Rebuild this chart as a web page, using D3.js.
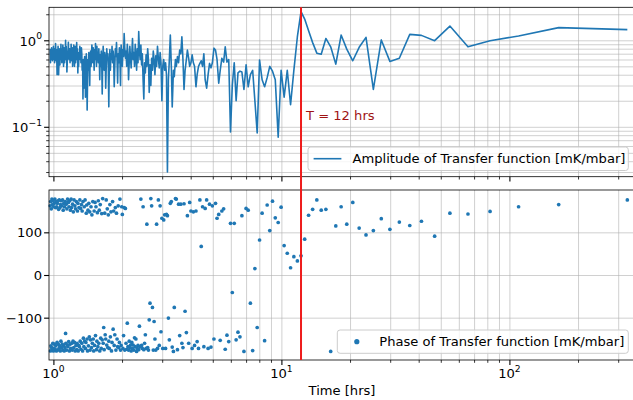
<!DOCTYPE html>
<html>
<head>
<meta charset="utf-8">
<script src="https://cdn.jsdelivr.net/npm/d3@7"></script>
<style>
  body { margin: 0; background: #fff; }
  svg { display: block; font-family: "DejaVu Sans", sans-serif; }
</style>
</head>
<body>
<svg id="chart" width="633" height="400"></svg>
<script>
// periods [hrs] of the spectral components
var periods = [
  329, 164.5, 109.7, 82.25, 65.8, 54.83, 47.0, 41.13, 36.56, 32.9,
  29.91, 27.42, 25.31, 23.5, 21.93, 20.56, 19.35, 18.28, 17.32, 16.45,
  15.67, 14.95, 14.30, 13.71, 13.16, 12.65, 12.19, 11.75, 11.34, 10.97,
  10.61, 10.28, 9.97, 9.68, 9.40, 9.14, 8.89, 8.66, 8.44, 8.23,
  8.02, 7.83, 7.65, 7.48, 7.31, 7.15, 7.00, 6.85, 6.71, 6.58,
  6.45, 6.33, 6.21, 6.09, 5.98, 5.875, 5.77, 5.67, 5.58, 5.48,
  5.39, 5.31, 5.22, 5.14, 5.06, 4.98, 4.91, 4.84, 4.77, 4.70,
  4.63, 4.57, 4.51, 4.45, 4.39, 4.33, 4.27, 4.22, 4.16, 4.11,
  4.06, 4.01, 3.96, 3.92, 3.87, 3.83, 3.78, 3.74, 3.70, 3.66,
  3.62, 3.58, 3.54, 3.50, 3.46, 3.43, 3.39, 3.36, 3.32, 3.29,
  3.257, 3.225, 3.194, 3.163, 3.133, 3.104, 3.075, 3.046, 3.018, 2.991,
  2.964, 2.938, 2.912, 2.886, 2.861, 2.836, 2.812, 2.788, 2.765, 2.742,
  2.719, 2.697, 2.675, 2.653, 2.632, 2.611, 2.591, 2.570, 2.550, 2.531,
  2.511, 2.492, 2.474, 2.455, 2.437, 2.419, 2.401, 2.384, 2.367, 2.350,
  2.333, 2.317, 2.301, 2.285, 2.269, 2.253, 2.238, 2.223, 2.208, 2.193,
  2.179, 2.164, 2.150, 2.136, 2.123, 2.109, 2.096, 2.082, 2.069, 2.056,
  2.043, 2.031, 2.018, 2.006, 1.994, 1.982, 1.970, 1.958, 1.947, 1.935,
  1.924, 1.913, 1.902, 1.891, 1.880, 1.869, 1.859, 1.848, 1.838, 1.828,
  1.818, 1.808, 1.798, 1.788, 1.778, 1.769, 1.759, 1.750, 1.741, 1.732,
  1.723, 1.714, 1.705, 1.696, 1.687, 1.679, 1.670, 1.662, 1.653, 1.645,
  1.637, 1.629, 1.621, 1.613, 1.605, 1.597, 1.589, 1.582, 1.574, 1.567,
  1.559, 1.552, 1.545, 1.537, 1.530, 1.523, 1.516, 1.509, 1.502, 1.495,
  1.489, 1.482, 1.475, 1.469, 1.462, 1.456, 1.449, 1.443, 1.437, 1.430,
  1.424, 1.418, 1.412, 1.406, 1.400, 1.394, 1.388, 1.382, 1.377, 1.371,
  1.365, 1.360, 1.354, 1.348, 1.343, 1.337, 1.332, 1.327, 1.321, 1.316,
  1.311, 1.306, 1.300, 1.295, 1.290, 1.285, 1.280, 1.275, 1.270, 1.265,
  1.261, 1.256, 1.251, 1.246, 1.242, 1.237, 1.232, 1.228, 1.223, 1.219,
  1.214, 1.210, 1.205, 1.201, 1.196, 1.192, 1.188, 1.183, 1.179, 1.175,
  1.171, 1.167, 1.163, 1.158, 1.154, 1.150, 1.146, 1.142, 1.138, 1.134,
  1.131, 1.127, 1.123, 1.119, 1.115, 1.111, 1.108, 1.104, 1.100, 1.097,
  1.093, 1.089, 1.086, 1.082, 1.079, 1.075, 1.072, 1.068, 1.065, 1.061,
  1.058, 1.054, 1.051, 1.048, 1.044, 1.041, 1.038, 1.034, 1.031, 1.028,
  1.025, 1.022, 1.019, 1.015, 1.012, 1.009, 1.006, 1.003, 1.000, 0.997,
  0.994, 0.991, 0.988, 0.985, 0.982, 0.979, 0.976, 0.973, 0.971, 0.968
];

// amplitude of transfer function [mK/mbar]
var amplitude = [
  1.33, 1.40, 1.12, 0.99, 0.84, 1.46, 0.99, 1.14, 1.17, 0.62,
  0.57, 1.01, 0.27, 1.08, 0.83, 0.58, 0.79, 1.15, 0.53, 0.84,
  1.05, 0.69, 0.71, 0.94, 1.29, 1.76, 2.14, 1.10, 0.45, 0.18,
  0.45, 0.22, 0.45, 0.076, 0.35, 0.44, 0.50, 0.37, 0.29, 0.35,
  0.59, 0.085, 0.20, 0.45, 0.40, 0.29, 0.52, 0.27, 0.43, 0.44,
  0.42, 0.20, 0.55, 0.30, 0.087, 0.60, 0.56, 0.84, 0.56, 0.62,
  0.45, 0.32, 0.60, 0.77, 0.81, 0.55, 0.48, 0.54, 0.40, 0.28,
  0.35, 0.70, 0.50, 0.58, 0.54, 0.50, 0.40, 0.29, 0.50, 0.55,
  0.68, 0.55, 0.50, 0.62, 0.77, 0.60, 0.45, 0.27, 0.60, 1.10,
  0.70, 0.77, 0.55, 0.65, 0.50, 0.60, 0.38, 0.45, 0.17, 0.50,
  1.15, 0.60, 0.35, 0.030, 0.40, 0.55, 0.45, 0.60, 0.50, 0.20,
  0.55, 0.72, 0.48, 0.62, 0.85, 0.50, 0.66, 0.40, 0.58, 0.75,
  0.45, 0.62, 0.30, 0.52, 0.25, 0.60, 0.80, 0.50, 0.68, 0.42,
  0.55, 0.21, 0.35, 0.70, 0.52, 0.88, 0.60, 0.75, 1.26, 0.55,
  0.80, 0.45, 0.65, 0.90, 0.50, 0.72, 0.60, 1.05, 0.70, 0.48,
  0.62, 0.85, 0.55, 0.35, 0.68, 0.90, 0.50, 0.75, 0.62, 0.80,
  1.20, 0.65, 0.78, 0.50, 0.70, 0.88, 0.30, 0.60, 0.82, 0.55,
  0.70, 0.32, 0.60, 0.94, 0.65, 0.80, 0.50, 0.29, 0.62, 0.75,
  0.55, 0.85, 0.60, 0.70, 0.45, 0.78, 0.55, 0.17, 0.48, 0.70,
  0.60, 0.80, 0.50, 0.28, 0.65, 0.72, 0.45, 0.60, 0.85, 0.55,
  0.24, 0.58, 0.75, 0.50, 0.68, 0.35, 0.62, 0.80, 0.55, 0.70,
  0.60, 0.85, 0.50, 0.72, 0.92, 0.60, 0.78, 0.45, 0.66, 0.82,
  0.55, 0.70, 0.88, 0.60, 0.50, 0.75, 0.62, 0.30, 0.55, 0.72,
  0.45, 0.60, 0.35, 0.156, 0.50, 0.70, 0.40, 0.22, 0.55, 0.65,
  0.50, 0.28, 0.60, 0.21, 0.58, 0.45, 0.70, 0.82, 0.55, 0.75,
  0.62, 0.85, 0.60, 0.72, 0.50, 0.68, 0.42, 0.80, 0.65, 0.94,
  0.60, 0.78, 0.55, 0.85, 0.68, 0.50, 0.72, 0.88, 0.60, 0.75,
  0.50, 0.82, 0.66, 0.58, 0.90, 0.62, 0.75, 0.55, 0.80, 0.68,
  0.60, 0.72, 0.95, 0.62, 0.75, 0.55, 0.43, 0.70, 0.85, 0.60,
  1.00, 0.65, 0.78, 0.55, 0.82, 0.68, 0.50, 0.75, 0.88, 0.62,
  0.70, 0.55, 0.80, 0.65, 0.90, 0.60, 0.74, 0.52, 0.68, 0.80,
  0.60, 0.40, 0.72, 0.85, 0.62, 0.70, 0.40, 0.66, 0.78, 0.58,
  0.75, 0.92, 0.60, 0.70, 0.55, 0.80, 0.66, 0.72, 0.85, 0.60,
  0.70, 0.58, 0.78, 0.65, 0.82, 0.60, 0.74, 0.68, 0.55, 0.80
];

// phase of transfer function [deg]
var phase = [
  176, 165, 160, 149, 143, 145, 91, 126, 116, 124,
  107, 132, 104, 94, 110, 170, 119, 160, 115, -179,
  154, 152, 176, 154, 140, 84, 45, 33, 43, 17,
  51, 69, 159, 123, 134, 173, 104, 164, -154, 145,
  82, -123, 15, -177, -66, 152, 156, -179, 139, -145,
  -134, -152, 121, -41, 121, -156, -141, -174, 155, 150,
  -153, 142, 133, 168, -150, 162, -169, 166, -172, 176,
  156, -168, 160, 67, 176, -172, -156, 150, -165, 148,
  -172, 150, 170, -160, 139, -135, -85, 167, -170, -160,
  166, -142, 166, -175, 178, 179, -76, -179, -169, 172,
  168, -152, -101, 139, 142, -172, 141, 129, -172, 133,
  -133, 162, -165, 176, -172, 119, -176, -150, -109, -176,
  -76, 162, 179, -66, -105, -176, -170, 119, -172, -140,
  -160, -175, 160, -172, -165, 178, -168, -120, -175, -165,
  -172, -179, -150, -168, -147, -176, -164, -172, -158, -178,
  -164, -170, -155, -176, -168, -113, -174, -160, 156, -176,
  158, -142, -172, 142, 160, -165, -176, 178, -158, -170,
  162, -168, -150, 145, -176, 158, -140, -165, 150, -127,
  172, -158, -178, 148, -145, 165, -172, -155, 141, -170,
  155, -164, 176, -150, -140, 145, -175, -123, -160, 179,
  -152, 144, -172, -148, 165, -178, 152, -160, 174, -168,
  146, -155, -175, 160, -142, 170, -165, 150, -178, -150,
  172, -160, 141, -170, 160, -152, -176, 148, -145, 168,
  -166, 152, -178, -150, 164, 145, -158, -172, 176, -155,
  160, -168, -148, 172, -178, 150, -160, 165, -174, 156,
  -155, 176, -168, 158, -165, -178, 168, 150, -160, -175,
  172, -165, 155, -178, 162, -158, 176, -170, 148, -155,
  166, -176, -160, 158, 178, -172, 152, -162, 174, -178,
  160, -156, 170, -168, 178, -164, 155, -176, 166, -160,
  -137, 172, -170, 160, -178, 168, -165, 152, -176, 176,
  -162, 162, -170, 174, -155, 165, -178, 158, -166, 176,
  -172, 154, -162, 174, -176, 168, -158, 160, -178, 172,
  -166, 158, -174, 178, -162, 168, -172, 160, -178, 174,
  -160, 165, -176, 178, -170, 155, -166, 172, -178, 162
];

var xMajorTicks = [1, 10, 100];
var xMinorTicks = [2, 3, 4, 5, 6, 7, 8, 9, 20, 30, 40, 50, 60, 70, 80, 90, 200, 300];
var ampMajorTicks = [0.1, 1];
var ampMinorTicks = [0.03, 0.04, 0.05, 0.06, 0.07, 0.08, 0.09, 0.2, 0.3, 0.4, 0.5, 0.6, 0.7, 0.8, 0.9, 2];
var phaseTicks = [-100, 0, 100];
var tidePeriod = 12.19;

var blue = "#1f77b4";
var fontSize = 13.1;
var svg = d3.select("#chart");

var left = 49, right = 635;
var ampBox = {top: 7.3, bottom: 176.7};
var phBox = {top: 190, bottom: 360};

var x = d3.scaleLog().domain([0.9565, 355.5]).range([left, right]);
var yAmp = d3.scaleLog().domain([0.02649, 2.407]).range([ampBox.bottom, ampBox.top]);
var yPh = d3.scaleLinear().domain([-199.2, 199.2]).range([phBox.bottom, phBox.top]);

var rows = periods.map(function(p, i) {
  return {t: p, amp: amplitude[i], ph: phase[i]};
});

function styleGrid(g) {
  g.select(".domain").remove();
  g.selectAll(".tick line").attr("stroke", "#b0b0b0").attr("stroke-width", 0.8).attr("stroke-opacity", 0.75);
}

function drawGrid(box, yScale, yVals) {
  svg.append("g")
    .attr("transform", "translate(0," + box.bottom + ")")
    .call(d3.axisBottom(x).tickValues(xMajorTicks.concat(xMinorTicks)).tickSize(-(box.bottom - box.top)).tickFormat(""))
    .call(styleGrid);
  svg.append("g")
    .attr("transform", "translate(" + left + ",0)")
    .call(d3.axisLeft(yScale).tickValues(yVals).tickSize(-(right - left)).tickFormat(""))
    .call(styleGrid);
}

function drawTicks(box, yScale, yMajor, yMinor) {
  var parts = [
    [d3.axisBottom(x).tickValues(xMajorTicks).tickSize(4.9), "translate(0," + box.bottom + ")", 1.1],
    [d3.axisBottom(x).tickValues(xMinorTicks).tickSize(2.8), "translate(0," + box.bottom + ")", 0.8],
    [d3.axisLeft(yScale).tickValues(yMajor).tickSize(4.9), "translate(" + left + ",0)", 1.1]
  ];
  if (yMinor) {
    parts.push([d3.axisLeft(yScale).tickValues(yMinor).tickSize(2.8), "translate(" + left + ",0)", 0.8]);
  }
  parts.forEach(function(p) {
    var g = svg.append("g").attr("transform", p[1]).call(p[0].tickFormat(""));
    g.select(".domain").remove();
    g.selectAll(".tick line").attr("stroke", "#000").attr("stroke-width", p[2]);
  });
  svg.append("rect")
    .attr("x", left).attr("y", box.top)
    .attr("width", right - left).attr("height", box.bottom - box.top)
    .attr("fill", "none").attr("stroke", "#000").attr("stroke-width", 0.8);
}

function powerLabel(sel, exp) {
  sel.append("tspan").text("10");
  sel.append("tspan").attr("dy", -6.3).attr("font-size", 9.2).text(exp);
}

// ---- top panel: amplitude
drawGrid(ampBox, yAmp, ampMajorTicks.concat(ampMinorTicks));

svg.append("path")
  .datum(rows)
  .attr("fill", "none")
  .attr("stroke", blue)
  .attr("stroke-width", 1.6)
  .attr("stroke-linejoin", "round")
  .attr("d", d3.line().x(function(d) { return x(d.t); }).y(function(d) { return yAmp(d.amp); }));

drawTicks(ampBox, yAmp, ampMajorTicks, ampMinorTicks);

ampMajorTicks.forEach(function(v) {
  var t = svg.append("text")
    .attr("x", 42).attr("y", yAmp(v) + 5.3)
    .attr("text-anchor", "end").attr("font-size", fontSize).attr("fill", "#000");
  powerLabel(t, v === 1 ? "0" : "\u22121");
});

// ---- bottom panel: phase
drawGrid(phBox, yPh, phaseTicks);

svg.append("g").selectAll("circle")
  .data(rows)
  .enter().append("circle")
  .attr("cx", function(d) { return x(d.t); })
  .attr("cy", function(d) { return yPh(d.ph); })
  .attr("r", 1.85)
  .attr("fill", blue);

drawTicks(phBox, yPh, phaseTicks, null);

phaseTicks.forEach(function(v) {
  svg.append("text")
    .attr("x", 42).attr("y", yPh(v) + 5)
    .attr("text-anchor", "end").attr("font-size", fontSize).attr("fill", "#000")
    .text(v < 0 ? "\u2212" + Math.abs(v) : String(v));
});

xMajorTicks.forEach(function(v) {
  var t = svg.append("text")
    .attr("x", x(v)).attr("y", 378.3)
    .attr("text-anchor", "middle").attr("font-size", fontSize).attr("fill", "#000");
  powerLabel(t, String(Math.round(Math.log10(v))));
});

svg.append("text")
  .attr("x", (left + right) / 2).attr("y", 395)
  .attr("text-anchor", "middle").attr("font-size", fontSize).attr("fill", "#000")
  .text("Time [hrs]");

// tide marker
svg.append("line")
  .attr("x1", x(tidePeriod)).attr("x2", x(tidePeriod))
  .attr("y1", ampBox.top).attr("y2", phBox.bottom)
  .attr("stroke", "#ee1c1c").attr("stroke-width", 2);

svg.append("text")
  .attr("x", x(tidePeriod) + 5).attr("y", 120)
  .attr("font-size", fontSize).attr("fill", "#a01414")
  .text("T = 12 hrs");

// legends
var lg1 = svg.append("g");
lg1.append("rect")
  .attr("x", 308).attr("y", 147).attr("width", 320.3).attr("height", 23.5).attr("rx", 2.8)
  .attr("fill", "#fff").attr("fill-opacity", 0.8).attr("stroke", "#cccccc").attr("stroke-width", 1);
lg1.append("line")
  .attr("x1", 313.6).attr("x2", 341.4).attr("y1", 158.7).attr("y2", 158.7)
  .attr("stroke", blue).attr("stroke-width", 1.6);
lg1.append("text")
  .attr("x", 352.5).attr("y", 163.4).attr("font-size", fontSize).attr("fill", "#000")
  .text("Amplitude of Transfer function [mK/mbar]");

var lg2 = svg.append("g");
lg2.append("rect")
  .attr("x", 337.3).attr("y", 330).attr("width", 291).attr("height", 23.3).attr("rx", 2.8)
  .attr("fill", "#fff").attr("fill-opacity", 0.8).attr("stroke", "#cccccc").attr("stroke-width", 1);
lg2.append("circle")
  .attr("cx", 356.8).attr("cy", 341.7).attr("r", 2.6).attr("fill", blue);
lg2.append("text")
  .attr("x", 379.3).attr("y", 346.3).attr("font-size", fontSize).attr("fill", "#000")
  .text("Phase of Transfer function [mK/mbar]");
</script>
</body>
</html>
